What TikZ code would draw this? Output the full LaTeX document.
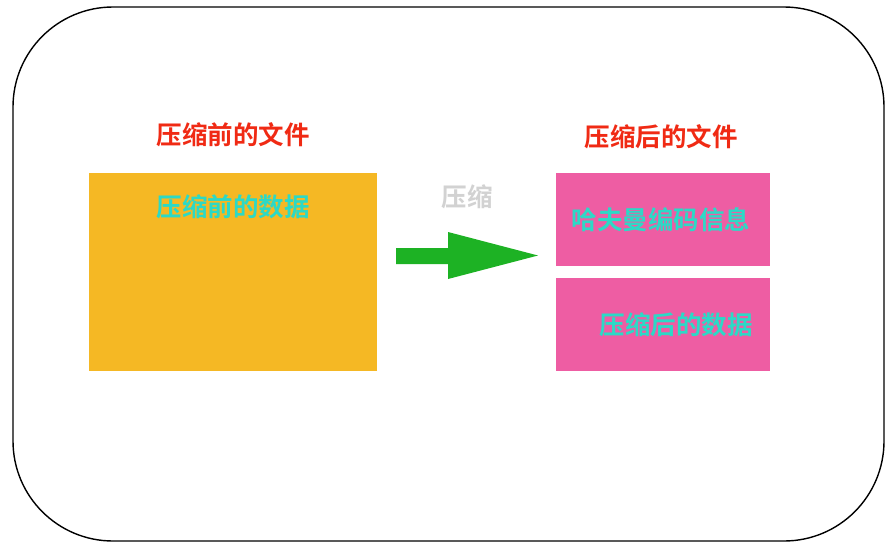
\documentclass[tikz,border=0pt]{standalone}
\usepackage{fontspec}
\newfontfamily\cjk{Noto Sans CJK SC}[BoldFont={Noto Sans CJK SC Bold}]
\usetikzlibrary{shapes.arrows}
\definecolor{orangebox}{HTML}{F5B824}
\definecolor{pinkbox}{HTML}{EE5DA3}
\definecolor{titlered}{HTML}{F02A14}
\definecolor{datacyan}{HTML}{2CD9C6}
\definecolor{arrowgreen}{HTML}{1DB224}
\definecolor{labelgray}{HTML}{D2D2D2}
\tikzset{
  lbl/.style={font=\cjk\bfseries\fontsize{25.5}{28}\selectfont, inner sep=0pt},
  box/.style={draw=none, inner sep=0pt, anchor=north west}
}
\begin{document}
\begin{tikzpicture}[x=1pt,y=-1pt]
\useasboundingbox (0,0) rectangle (896,549);
\fill[white] (0,0) rectangle (896,549);
\draw[line width=1.4pt, rounded corners=100pt] (13,7) rectangle (884,541);
% left file
\node[lbl, text=titlered] (t1) at (233,135) {压缩前的文件};
\node[box, fill=orangebox, minimum width=288pt, minimum height=198pt] (ob) at (89,173) {};
\node[lbl, text=datacyan] (d1) at (233,207) {压缩前的数据};
% arrow
\node[lbl, text=labelgray] (c) at (467,197) {压缩};
\fill[arrowgreen] (396,248) -- (448,248) -- (448,232) -- (538,255.5) -- (448,279) -- (448,264) -- (396,264) -- cycle;
% right file
\node[lbl, text=titlered] (t2) at (661,137) {压缩后的文件};
\node[box, fill=pinkbox, minimum width=214pt, minimum height=93pt] (p1) at (556,173) {};
\node[box, fill=pinkbox, minimum width=214pt, minimum height=93pt] (p2) at (556,278) {};
\node[lbl, text=datacyan] (h) at (661,220) {哈夫曼编码信息};
\node[lbl, text=datacyan] (d2) at (676,325) {压缩后的数据};
\end{tikzpicture}
\end{document}
